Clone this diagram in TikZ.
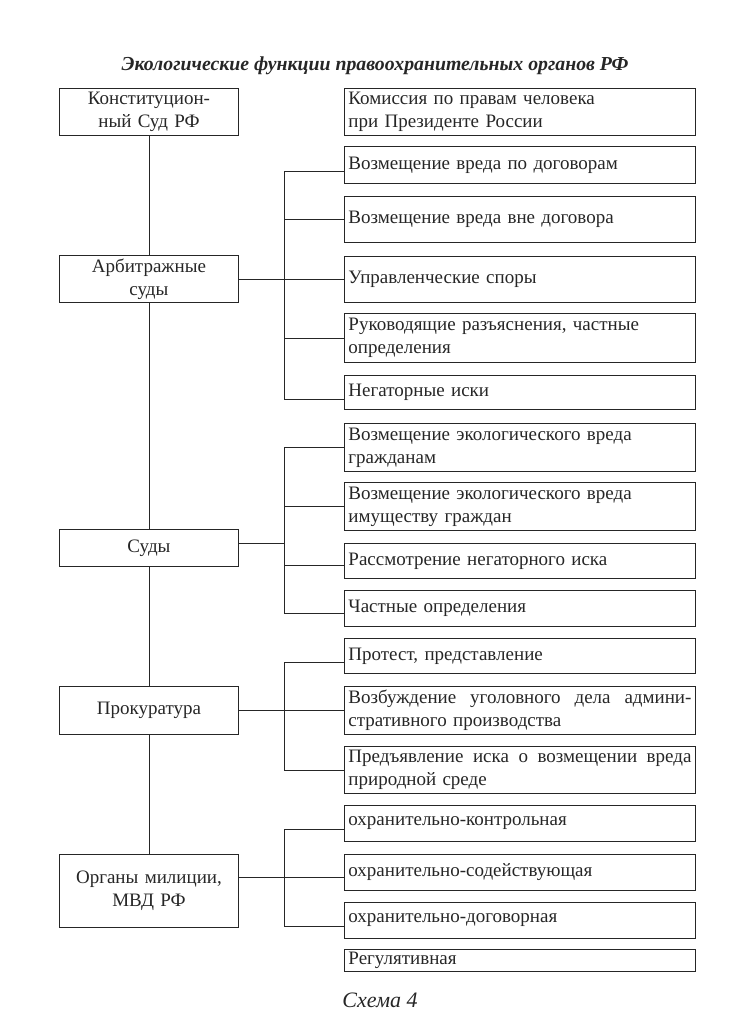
\documentclass[tikz,border=0pt]{standalone}
\usepackage{fontspec}
\setmainfont{Liberation Serif}
\begin{document}
\begin{tikzpicture}[x=1pt,y=-1pt,
  every node/.style={font=\fontsize{19}{23}\selectfont, text=black!85},
  lbox/.style={draw=black!85, line width=0.9pt, anchor=north west, minimum width=179pt, text width=171pt, inner xsep=4pt, inner ysep=0pt, align=center},
  rbox/.style={draw=black!85, line width=0.9pt, anchor=north west, minimum width=351pt, text width=343pt, inner xsep=4pt, inner ysep=0pt, align=left},
  conn/.style={draw=black!85, line width=0.9pt}]
\useasboundingbox (0,0) rectangle (740,1028);
% title
\node[font=\fontsize{19.8}{23}\selectfont\bfseries\itshape] (title) at (375,66) {Экологические функции правоохранительных органов РФ};
% left boxes
\node[lbox, minimum height=47pt] (l1) at (59,88) {Конституцион-\\ный Суд РФ};
\node[lbox, minimum height=47pt] (l2) at (59,255) {Арбитражные\\суды};
\node[lbox, minimum height=37pt] (l3) at (59,529) {Суды};
\node[lbox, minimum height=48pt] (l4) at (59,686) {Прокуратура};
\node[lbox, minimum height=73pt] (l5) at (59,854) {Органы милиции,\\МВД РФ};
% right boxes
\node[rbox, minimum height=47pt] (r1) at (344,88) {Комиссия по правам человека\\при Президенте России};
\node[rbox, minimum height=37pt] (r2) at (344,146) {Возмещение вреда по договорам};
\node[rbox, minimum height=46pt] (r3) at (344,196) {Возмещение вреда вне договора};
\node[rbox, minimum height=46pt] (r4) at (344,256) {Управленческие споры};
\node[rbox, minimum height=49pt] (r5) at (344,313) {Руководящие разъяснения, частные\\определения};
\node[rbox, minimum height=34pt] (r6) at (344,375) {Негаторные иски};
\node[rbox, minimum height=48pt] (r7) at (344,423) {Возмещение экологического вреда\\гражданам};
\node[rbox, minimum height=48pt] (r8) at (344,482) {Возмещение экологического вреда\\имуществу граждан};
\node[rbox, minimum height=35pt] (r9) at (344,543) {Рассмотрение негаторного иска};
\node[rbox, minimum height=36pt] (r10) at (344,590) {Частные определения};
\node[rbox, minimum height=35pt] (r11) at (344,638) {Протест, представление};
\node[rbox, minimum height=48pt] (r12) at (344,686) {\hbox to 343pt{Возбуждение\hfill уголовного\hfill дела\hfill админи-}\\стративного производства};
\node[rbox, minimum height=47pt] (r13) at (344,746) {\hbox to 343pt{Предъявление\hfill иска\hfill о\hfill возмещении\hfill вреда}\\природной среде};
\node[rbox, minimum height=36pt] (r14) at (344,805) {охранительно-контрольная};
\node[rbox, minimum height=36pt] (r15) at (344,854) {охранительно-содействующая};
\node[rbox, minimum height=36pt] (r16) at (344,902) {охранительно-договорная};
\node[rbox, minimum height=22pt] (r17) at (344,949) {Регулятивная};
% caption
\node[font=\fontsize{22}{26}\selectfont\itshape] (cap) at (380,1000) {Схема 4};
% spine
\draw[conn] (l1.south) -- (l2.north);
\draw[conn] (l2.south) -- (l3.north);
\draw[conn] (l3.south) -- (l4.north);
\draw[conn] (l4.south) -- (l5.north);
% group 1
\draw[conn] ([yshift=-6pt]r2.west) -- ++(-60,0) |- ([yshift=-7pt]r6.west);
\draw[conn] (r3.west) -- ++(-60,0);
\draw[conn] (l2.east) -- (l2.east -| r4.west);
\draw[conn] (r5.west) -- ++(-60,0);
% group 2
\draw[conn] (r7.west) -- ++(-60,0) |- ([yshift=-5pt]r10.west);
\draw[conn] (r8.west) -- ++(-60,0);
\draw[conn] ([yshift=-4pt]r9.west) -- ++(-60,0);
\draw[conn] ([yshift=5pt]l3.east) -- ++(46,0);
% group 3
\draw[conn] ([yshift=-6pt]r11.west) -- ++(-60,0) |- (r13.west);
\draw[conn] (l4.east) -- (l4.east -| r12.west);
% group 4
\draw[conn] ([yshift=-6pt]r14.west) -- ++(-60,0) |- ([yshift=-6pt]r16.west);
\draw[conn] ([yshift=-5pt]r15.west) -- ([yshift=-5pt]r15.west -| l5.east);
\end{tikzpicture}
\end{document}
